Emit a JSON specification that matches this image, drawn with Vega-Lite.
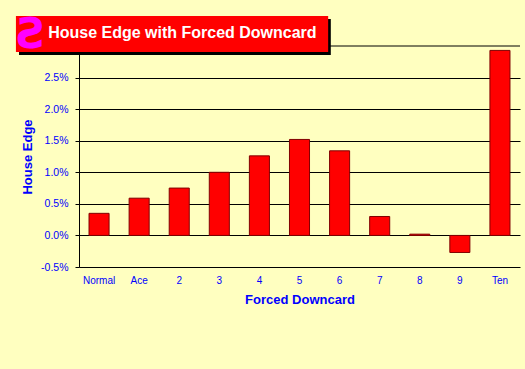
{
"$schema":"https://vega.github.io/schema/vega-lite/v6.json",
"width":441,"height":221,
"autosize":"none",
"padding":{"left":79,"top":46,"right":5,"bottom":102},
"background":"#FFFFC0",
"config":{"view":{"stroke":null},"font":"Liberation Sans"},
"datasets":{
"bars":[
{"card":"Normal","edge":0.35},{"card":"Ace","edge":0.59},{"card":"2","edge":0.75},{"card":"3","edge":1.0},{"card":"4","edge":1.26},{"card":"5","edge":1.52},{"card":"6","edge":1.34},{"card":"7","edge":0.30},{"card":"8","edge":0.02},{"card":"9","edge":-0.27},{"card":"Ten","edge":2.93}],
"banner":[{"title":"House Edge with Forced Downcard"}]
},
"layer":[
{"data":{"name":"banner"},"mark":{"type":"rule","color":"#000000","strokeWidth":1},
"encoding":{"y":{"datum":3.0,"scale":{"domain":[-0.5,3.0],"nice":false,"zero":false}}}},
{"data":{"name":"bars"},"mark":{"type":"bar","fill":"#FF0000","stroke":"#800000","strokeWidth":1},
"encoding":{
"x":{"field":"card","type":"nominal","sort":null,"scale":{"paddingInner":0.5,"paddingOuter":0.25},
"axis":{"title":"Forced Downcard","labelAngle":0,"labelColor":"#0000FF","labelFontSize":10,"labelPadding":8,"labelOverlap":false,"ticks":false,"domain":false,"titleColor":"#0000FF","titleFontSize":13,"titleFontWeight":"bold","titlePadding":8,"grid":false}},
"y":{"field":"edge","type":"quantitative","scale":{"domain":[-0.5,3.0],"nice":false,"zero":false},
"axis":{"title":"House Edge","values":[-0.5,0,0.5,1,1.5,2,2.5],"tickCount":7,"format":".1f","labelExpr":"replace(datum.label,'−','-') + '%'","labelOverlap":false,"labelColor":"#0000FF","labelFontSize":10.5,"labelPadding":7,"tickColor":"#000000","tickSize":4,"tickWidth":1,"domainColor":"#000000","domainWidth":1,"gridColor":"#000000","grid":true,"gridOpacity":1,"gridWidth":1,"titleColor":"#0000FF","titleFontSize":13,"titleFontWeight":"bold","titlePadding":6}}
}},
{"data":{"name":"banner"},"mark":{"type":"rect","fill":"#000000"},
"encoding":{"x":{"datum":-0.136,"type":"quantitative","scale":{"domain":[0,1],"nice":false,"zero":false},"axis":null},"x2":{"datum":0.571},"y":{"datum":3.427},"y2":{"datum":2.858}}},
{"data":{"name":"banner"},"mark":{"type":"rect","fill":"#FF0000"},
"encoding":{"x":{"datum":-0.143,"type":"quantitative","scale":{"domain":[0,1],"nice":false,"zero":false},"axis":null},"x2":{"datum":0.565},"y":{"datum":3.475},"y2":{"datum":2.905}}},
{"data":{"name":"banner"},"mark":{"type":"text","text":"Ƨ","color":"#FF00FF","fontSize":42,"fontWeight":"bold","font":"DejaVu Sans","align":"center","baseline":"middle"},
"encoding":{"x":{"datum":-0.107,"type":"quantitative","scale":{"domain":[0,1],"nice":false,"zero":false},"axis":null},"y":{"datum":3.17}}},
{"data":{"name":"banner"},"mark":{"type":"text","color":"#FFFFFF","fontSize":16,"fontWeight":"bold","align":"left","baseline":"middle"},
"encoding":{"text":{"field":"title"},"x":{"datum":-0.07,"type":"quantitative","scale":{"domain":[0,1],"nice":false,"zero":false},"axis":null},"y":{"datum":3.2}}}
],
"resolve":{"scale":{"x":"independent"},"axis":{"x":"independent"}}
}
